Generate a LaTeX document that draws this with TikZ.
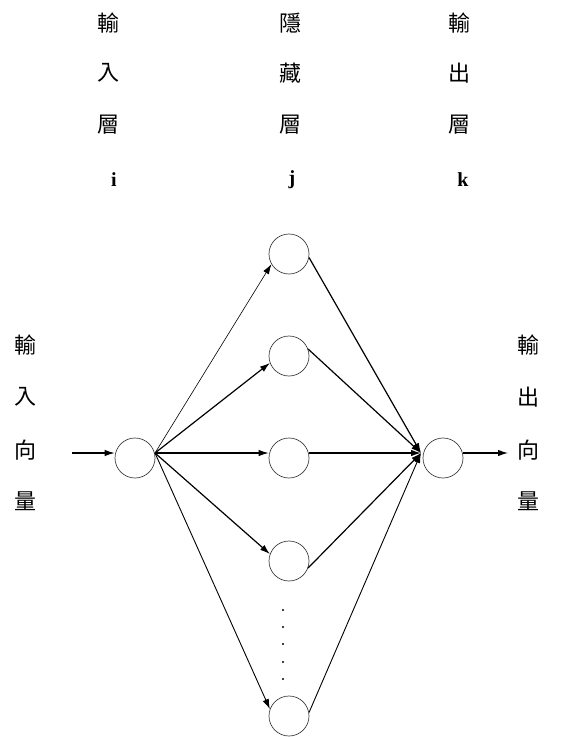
\documentclass[tikz,border=0pt]{standalone}
\usepackage{fontspec}
\newfontfamily\cjk{Noto Sans CJK TC}
\setmainfont{Liberation Serif}
\usetikzlibrary{arrows.meta}
\begin{document}
\begin{tikzpicture}[x=1pt,y=-1pt,
  neuron/.style={draw=black!75,circle,minimum size=40pt,inner sep=0pt,line width=0.7pt},
  lab/.style={font=\cjk\fontsize{22}{22}\selectfont,inner sep=0pt},
  lat/.style={font=\bfseries\fontsize{20}{20}\selectfont,inner sep=0pt},
  thinarr/.style={-{Latex[length=10pt,width=6.5pt]},line width=0.6pt},
  thickarr/.style={-{Latex[length=10pt,width=6.5pt]},line width=1.2pt}]
\useasboundingbox (0,0) rectangle (584,737);
% column titles
\node[lab] (t1a) at (108,23) {輸};
\node[lab] (t1b) at (108,73) {入};
\node[lab] (t1c) at (108,125) {層};
\node[lat] (t1d) at (114,180) {i};
\node[lab] (t2a) at (290,23) {隱};
\node[lab] (t2b) at (290,73) {藏};
\node[lab] (t2c) at (290,125) {層};
\node[lat] (t2d) at (292,180) {j};
\node[lab] (t3a) at (459,23) {輸};
\node[lab] (t3b) at (459,73) {出};
\node[lab] (t3c) at (459,125) {層};
\node[lat] (t3d) at (463,180) {k};
% side labels
\node[lab] (l1) at (25,345) {輸};
\node[lab] (l2) at (25,397) {入};
\node[lab] (l3) at (25,450) {向};
\node[lab] (l4) at (25,501) {量};
\node[lab] (r1) at (528,345) {輸};
\node[lab] (r2) at (528,397) {出};
\node[lab] (r3) at (528,450) {向};
\node[lab] (r4) at (528,501) {量};
% neurons
\node[neuron] (in) at (135,458) {};
\node[neuron] (h1) at (289,254) {};
\node[neuron] (h2) at (289,356) {};
\node[neuron] (h3) at (289,458) {};
\node[neuron] (h4) at (289,561) {};
\node[neuron] (h5) at (289,716) {};
\node[neuron] (out) at (443,458) {};
% dots
\foreach \yy [count=\n] in {610,627,644,662,679}
  \node[circle,fill=black,inner sep=0pt,minimum size=2.2pt] (d\n) at (283,\yy) {};
% helper points
\coordinate (src) at (155,453);
\coordinate (dst) at (421,453);
\coordinate (inL) at (72,453);
\coordinate (outR) at (508,453);
% input / output arrows
\draw[thickarr] (inL) -- (in.west |- inL);
\draw[thickarr] (out.east |- outR) -- (outR);
% input to hidden
\draw[thinarr] (src) -- (h1.-150);
\draw[thickarr] (src) -- (h2.-160);
\draw[thickarr] (src) -- (h3.west |- src);
\draw[thickarr] (src) -- (h4.160);
\draw[thickarr,line width=0.9pt] (src) -- (h5.160);
% hidden to output
\draw[thickarr] (h1.-10) -- (dst);
\draw[thickarr] (h2.20) -- (dst);
\draw[thickarr] (h3.east |- dst) -- (dst);
\draw[thickarr] (h4.-20) -- (dst);
\draw[thickarr,line width=0.9pt] (h5.10) -- (dst);
\end{tikzpicture}
\end{document}
